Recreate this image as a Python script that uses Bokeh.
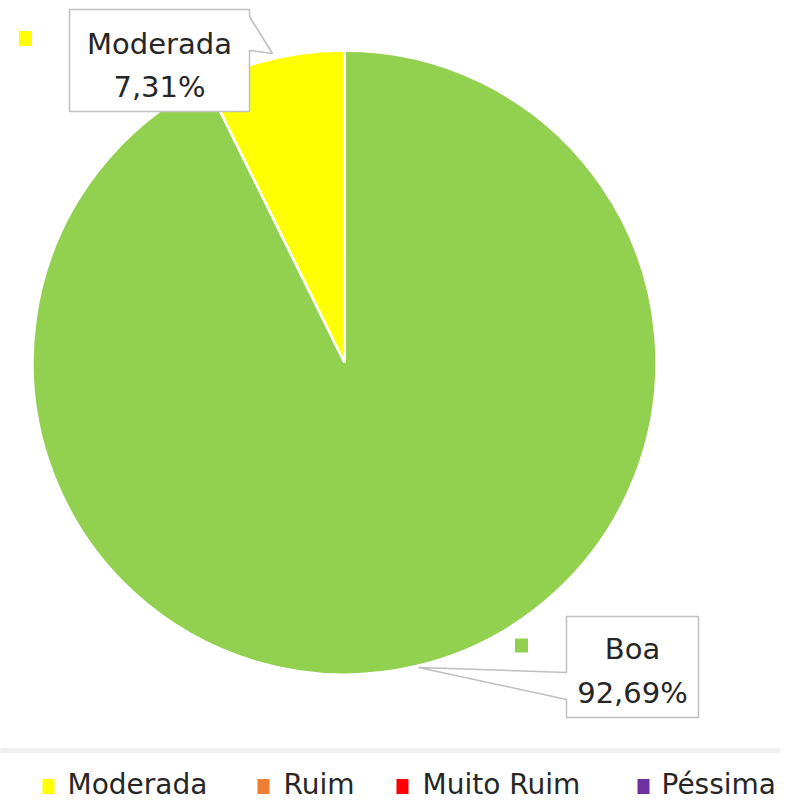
import numpy as np
from bokeh.plotting import figure
from bokeh.models import Range1d
from bokeh.core.properties import value
from bokeh.embed import file_html
from bokeh.resources import INLINE

# ---- data ----
categories = ["Boa", "Moderada", "Ruim", "Muito Ruim", "Péssima"]
values = [92.69, 7.31, 0.0, 0.0, 0.0]
colors = ["#92D050", "#FFFF00", "#ED7D31", "#FF0000", "#7030A0"]
label_texts = ["92,69%", "7,31%"]

FONT = value("DejaVu Sans")

p = figure(width=780, height=802, output_backend="svg", toolbar_location=None,
           x_range=Range1d(0, 780), y_range=Range1d(-802, 0),
           min_border=0)
p.axis.visible = False
p.grid.visible = False
p.outline_line_color = None
p.background_fill_color = "white"
p.border_fill_color = "white"

# ---- pie (clockwise from 12 o'clock) ----
cx, cy, r = 344, -362, 312
vals = np.array(values, dtype=float)
frac = vals / vals.sum()
cum = np.concatenate([[0], np.cumsum(frac)])
start_clock = np.pi / 2 - cum[:-1] * 2 * np.pi
end_clock = np.pi / 2 - cum[1:] * 2 * np.pi
for i in range(len(categories)):
    if frac[i] <= 0:
        continue
    p.wedge(x=cx, y=cy, radius=r, start_angle=end_clock[i], end_angle=start_clock[i],
            fill_color=colors[i], line_color="white", line_width=2.5)

# ---- data label callouts ----
box_col = "#BFBFBF"
mx = [69, 249, 249, 272, 249, 249, 69]
my = [-9, -9, -16, -53, -50, -111, -111]
p.patch(mx, my, fill_color="white", line_color=box_col, line_width=1.5)
p.text(x=[159, 159], y=[-43, -86], text=[categories[1], label_texts[1]],
       text_font=FONT, text_font_size="29px", text_color="#262626",
       text_align="center", text_baseline="middle")
p.rect(x=[25], y=[-38], width=13, height=15, fill_color=colors[1], line_color=None)

bx = [566, 698, 698, 566, 566, 418, 566]
by = [-616, -616, -717, -717, -699, -667, -672]
p.patch(bx, by, fill_color="white", line_color=box_col, line_width=1.5)
p.text(x=[632, 632], y=[-648, -692], text=[categories[0], label_texts[0]],
       text_font=FONT, text_font_size="29px", text_color="#262626",
       text_align="center", text_baseline="middle")
p.rect(x=[521], y=[-645], width=13, height=14, fill_color=colors[0], line_color=None)

# ---- light separator band ----
p.rect(x=[390], y=[-750], width=800, height=5, fill_color="#F0F0F0", line_color=None)

# ---- legend (manual, horizontal; first entry lies beyond the left edge) ----
sq_x = [48, 263, 402, 643]
tx_x = [67, 283, 422, 661]
leg_cats = categories[1:]
leg_cols = colors[1:]
p.rect(x=sq_x, y=[-786] * 4, width=12, height=15, fill_color=leg_cols, line_color=None)
p.text(x=tx_x, y=[-784] * 4, text=leg_cats, text_font=FONT, text_font_size="28px",
       text_color="#262626", text_align="left", text_baseline="middle")

open("out.html", "w").write(file_html(p, INLINE))
